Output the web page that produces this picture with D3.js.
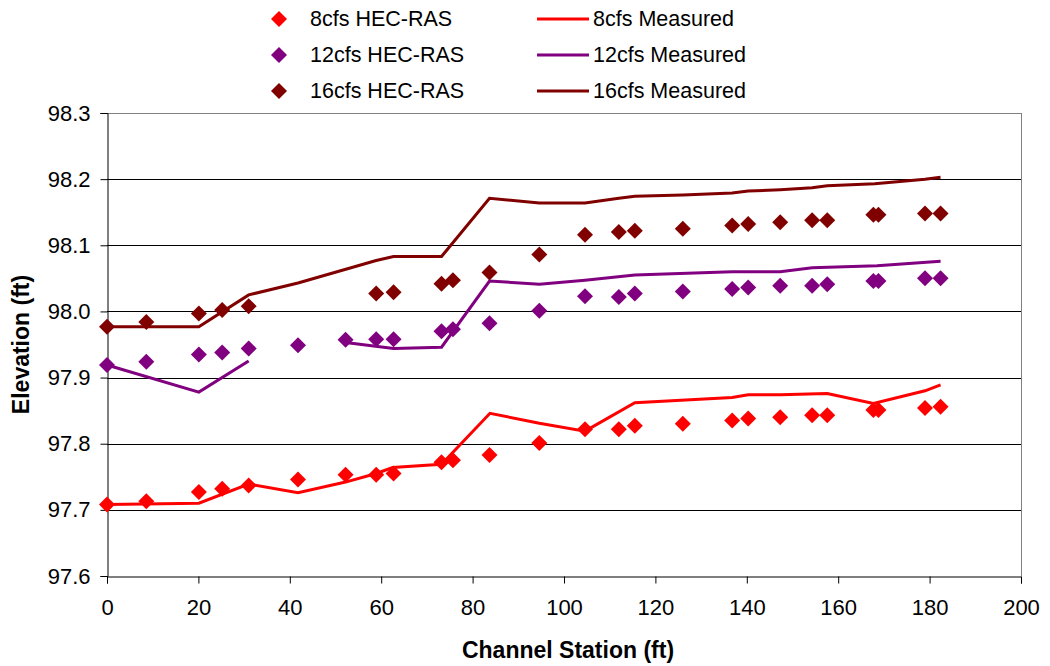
<!DOCTYPE html>
<html>
<head>
<meta charset="utf-8">
<script src="https://cdn.jsdelivr.net/npm/d3@7"></script>
<style>
  html, body { margin: 0; padding: 0; background: #fff; }
  svg { display: block; font-family: "Liberation Sans", Arial, sans-serif; }
</style>
</head>
<body>
<svg id="chart" width="1050" height="666"></svg>
<script>
// HEC-RAS computed stations (ft) and water-surface elevations (ft)
const stations = [0, 8.6, 20.1, 25.2, 31, 41.8, 52.2, 58.9, 62.7, 73.2, 75.7, 83.7, 94.6,
  104.6, 112, 115.5, 126, 136.8, 140.3, 147.3, 154.3, 157.6, 167.7, 168.8, 179, 182.4];
const hec8 = [97.708, 97.713, 97.727, 97.732, 97.737, 97.746, 97.753, 97.753, 97.755, 97.772, 97.775, 97.783, 97.801,
  97.822, 97.822, 97.827, 97.830, 97.835, 97.838, 97.840, 97.843, 97.843, 97.851, 97.851, 97.854, 97.856];
const hec12 = [97.919, 97.924, 97.935, 97.938, 97.944, 97.949, 97.957, 97.958, 97.958, 97.970, 97.973, 97.982, 98.001,
  98.023, 98.022, 98.027, 98.030, 98.034, 98.036, 98.039, 98.039, 98.041, 98.046, 98.046, 98.050, 98.050];
const hec16 = [97.977, 97.984, 97.997, 98.002, 98.008, null, null, 98.027, 98.029, 98.042, 98.047, 98.059, 98.086,
  98.116, 98.120, 98.122, 98.125, 98.130, 98.132, 98.135, 98.138, 98.138, 98.146, 98.146, 98.148, 98.148];

// Measured profiles (null marks a gap in the record)
const measStations8 = [0, 20.1, 31, 41.8, 52.2, 58.9, 62.5, 73.2, 83.8, 94.6, 104.6, 115.5, 136.8, 140.3, 147.3, 157.6, 167.7, 179, 182.4];
const meas8 = [97.708, 97.710, 97.739, 97.726, 97.742, 97.755, 97.764, 97.769, 97.846, 97.831, 97.819, 97.862, 97.870, 97.874, 97.874, 97.876, 97.861, 97.880, 97.889];
const measStations12 = [0, 20.1, 31, 40, 52.2, 62.7, 73.2, 83.7, 94.6, 104.6, 115.5, 136.8, 147.3, 154.3, 168.5, 182.4];
const meas12 = [97.919, 97.878, 97.925, null, 97.953, 97.944, 97.946, 98.046, 98.041, 98.047, 98.055, 98.060, 98.060, 98.066, 98.069, 98.076];
const measStations16 = [0, 20.1, 31, 41.8, 58.9, 62.7, 73.2, 83.7, 94.6, 104.6, 112, 115.5, 126, 136.8, 140.3, 147.3, 154.3, 157.6, 168, 179, 182.4];
const meas16 = [97.977, 97.977, 98.025, 98.043, 98.077, 98.083, 98.083, 98.171, 98.164, 98.164, 98.171, 98.174, 98.176, 98.179, 98.182, 98.184, 98.187, 98.190, 98.193, 98.200, 98.203];

const xTicks = [0, 20, 40, 60, 80, 100, 120, 140, 160, 180, 200];
const yTicks = [97.6, 97.7, 97.8, 97.9, 98.0, 98.1, 98.2, 98.3];

const series = [
  { name: "8cfs", color: "#ff0000", hec: hec8, mx: measStations8, my: meas8 },
  { name: "12cfs", color: "#800080", hec: hec12, mx: measStations12, my: meas12 },
  { name: "16cfs", color: "#800000", hec: hec16, mx: measStations16, my: meas16 }
];

const svg = d3.select("#chart");
const plot = { left: 107, right: 1021, top: 113, bottom: 576 };

const x = d3.scaleLinear().domain([0, 200]).range([plot.left, plot.right]);
const y = d3.scaleLinear().domain([97.6, 98.3]).range([plot.bottom, plot.top]);

// Horizontal gridlines
svg.append("g")
  .selectAll("line")
  .data(yTicks.slice(1))
  .join("line")
  .attr("x1", plot.left).attr("x2", plot.right)
  .attr("y1", d => Math.round(y(d)) + 0.5).attr("y2", d => Math.round(y(d)) + 0.5)
  .attr("stroke", d => d === 98.3 ? "#808080" : "#000")
  .attr("stroke-width", 1);

// Right border of the plot area
svg.append("line")
  .attr("x1", Math.round(plot.right) + 0.5).attr("x2", Math.round(plot.right) + 0.5)
  .attr("y1", plot.top).attr("y2", plot.bottom)
  .attr("stroke", "#808080");

// Axes
const xAxis = d3.axisBottom(x).tickValues(xTicks).tickSize(7).tickPadding(16).tickFormat(d3.format("d"));
const yAxis = d3.axisLeft(y).tickValues(yTicks).tickSize(7).tickPadding(10).tickFormat(d3.format(".1f"));

const gx = svg.append("g").attr("transform", `translate(0,${Math.round(plot.bottom) + 0.5})`).call(xAxis);
const gy = svg.append("g").attr("transform", `translate(${Math.round(plot.left) + 0.5},0)`).call(yAxis);

[gx, gy].forEach(g => {
  g.select(".domain").attr("stroke", "#000").attr("stroke-width", 1);
  g.selectAll(".tick line").attr("stroke", "#000");
  g.selectAll(".tick text")
    .attr("fill", "#000")
    .style("font-size", "22px")
    .style("font-family", "'Liberation Sans', Arial, sans-serif");
});

// Axis titles
svg.append("text")
  .attr("x", 568)
  .attr("y", 658)
  .attr("text-anchor", "middle")
  .style("font-size", "23px")
  .style("font-weight", "bold")
  .text("Channel Station (ft)");

svg.append("text")
  .attr("transform", `translate(29,${(plot.top + plot.bottom) / 2}) rotate(-90)`)
  .attr("text-anchor", "middle")
  .style("font-size", "23px")
  .style("font-weight", "bold")
  .text("Elevation (ft)");

// Measured profiles as lines
const line = d3.line()
  .defined(d => d[1] !== null)
  .x(d => x(d[0]))
  .y(d => y(d[1]));

series.forEach(s => {
  const pts = s.mx.map((st, i) => [st, s.my[i]]);
  svg.append("path")
    .datum(pts)
    .attr("fill", "none")
    .attr("stroke", s.color)
    .attr("stroke-width", 3)
    .attr("stroke-linejoin", "miter")
    .attr("d", line);
});

// HEC-RAS results as diamonds
const diamond = r => `M0,${-r}L${r},0L0,${r}L${-r},0Z`;

series.forEach(s => {
  const pts = stations.map((st, i) => [st, s.hec[i]]).filter(d => d[1] !== null);
  svg.append("g")
    .selectAll("path")
    .data(pts)
    .join("path")
    .attr("transform", d => `translate(${x(d[0])},${y(d[1])})`)
    .attr("d", diamond(8))
    .attr("fill", s.color);
});

// Legend
const legendRows = [18, 54, 90];
const legend = svg.append("g");
series.forEach((s, i) => {
  const ly = legendRows[i];
  legend.append("path")
    .attr("transform", `translate(279,${ly + 1})`)
    .attr("d", diamond(8))
    .attr("fill", s.color);
  legend.append("text")
    .attr("x", 310).attr("y", ly)
    .attr("dy", "0.35em")
    .style("font-size", "21.5px")
    .text(`${s.name} HEC-RAS`);
  legend.append("line")
    .attr("x1", 537).attr("x2", 589)
    .attr("y1", ly + 1).attr("y2", ly + 1)
    .attr("stroke", s.color)
    .attr("stroke-width", 3);
  legend.append("text")
    .attr("x", 593).attr("y", ly)
    .attr("dy", "0.35em")
    .style("font-size", "21.5px")
    .text(`${s.name} Measured`);
});
</script>
</body>
</html>
